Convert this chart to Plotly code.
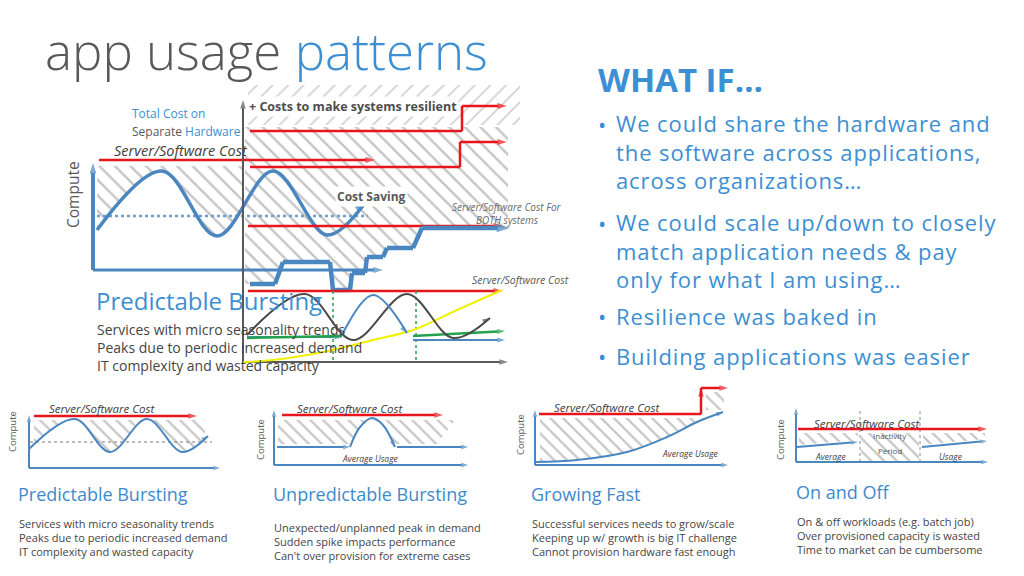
import plotly.graph_objects as go

W, H = 1024, 576
FONT = "Open Sans"

BLUE_TXT = "#3c8fd2"
GRAY_TXT = "#595959"
DESC_TXT = "#454545"
LINE_BLUE = "#4a87c0"
RED = "#e8161c"
HATCH = "#8c8c8c"
AXIS_GRAY = "#595959"
YELLOW = "#f0f000"
GREEN = "#23a24d"

# ---------------- text content ----------------
title_gray = "app usage "
title_blue = "patterns"
whatif_title = "WHAT IF…"
bullet_lines = [
    "We could share the hardware and",
    "the software across applications,",
    "across organizations…",
    "We could scale up/down to closely",
    "match application needs & pay",
    "only for what I am using…",
    "Resilience was baked in",
    "Building applications was easier",
]
bullet_starts = [True, False, False, True, False, False, True, True]

main_title = "Predictable Bursting"
main_desc = ["Services with micro seasonality trends",
             "Peaks due to periodic increased demand",
             "IT complexity and wasted capacity"]

card_titles = ["Predictable Bursting", "Unpredictable Bursting", "Growing Fast", "On and Off"]
card_desc = [
    ["Services with micro seasonality trends", "Peaks due to periodic increased demand", "IT complexity and wasted capacity"],
    ["Unexpected/unplanned peak in demand", "Sudden spike impacts performance", "Can't over provision for extreme cases"],
    ["Successful services needs to grow/scale", "Keeping up w/ growth is big IT challenge", "Cannot provision hardware fast enough"],
    ["On & off workloads (e.g. batch job)", "Over provisioned capacity is wasted", "Time to market can be cumbersome"],
]

# ---------------- main diagram data (time, compute units) ----------------
m_vaxis_x, m_vaxis_y = [33, 33], [110, 217]
m_haxis_x, m_haxis_y = [33, 323], [110, 110]
m_wave_x = [37, 102, 157, 213, 267, 305]
m_wave_y = [150, 209, 144, 209, 145, 177]
m_avg_x, m_avg_y = [37, 308], [164, 164]
m_cost_x, m_cost_y = [39, 315], [220, 220]
m_hatchL_top_x, m_hatchL_top_y = [37, 183], [214, 214]
m_hatchL_bot_x, m_hatchL_bot_y = [37, 102, 157, 183], [150, 209, 144, 178]
m_gv_x, m_gv_y = [183, 183], [17, 280]
m_gh_x, m_gh_y = [183, 448], [18, 18]
m_hatchR_x = [185, 448, 448, 362, 353, 327, 323, 307, 305, 292, 290, 273, 270, 223, 215, 185]
m_hatchR_y = [253, 253, 152, 152, 132, 132, 123, 123, 107, 107, 90, 90, 118, 118, 96, 96]
m_res_x, m_res_y = [188, 460, 460, 188], [255, 255, 295, 295]
m_res1_x, m_res1_y = [190, 402, 402, 447], [249, 249, 274, 274]
m_res2_x, m_res2_y = [190, 400, 400, 447], [213, 213, 238, 238]
m_both_x, m_both_y = [188, 443], [154, 154]
m_low_x, m_low_y = [188, 443], [89, 89]
m_step_x = [190, 215, 223, 270, 273, 290, 292, 305, 307, 323, 327, 353, 362, 450]
m_step_y = [96, 96, 118, 118, 90, 90, 107, 107, 123, 123, 132, 132, 152, 152]
m_yel_x = [183, 213, 263, 313, 353, 397, 442]
m_yel_y = [18, 20, 28, 40, 50, 70, 90]
m_blk_x = [187, 245, 293, 347, 393, 430]
m_blk_y = [45, 86, 40, 86, 42, 62]
m_bw1_x, m_bw1_y = [187, 282], [43, 43]
m_bw2_x, m_bw2_y = [282, 313, 347], [45, 85, 47]
m_bw3_x, m_bw3_y = [353, 445], [40, 40]
m_gr1_x, m_gr1_y = [187, 282], [42, 44]
m_gr3_x, m_gr3_y = [353, 445], [44, 49]
m_vd1_x, m_vd_y = [273, 273], [89, 18]
m_vd2_x = [356, 356]

# ---------------- card 1: predictable bursting ----------------
c1_yax_x, c1_yax_y = [9, 9], [7, 60]
c1_xax_x, c1_xax_y = [9, 200], [7, 7]
c1_cost_x, c1_cost_y = [14, 177], [59, 59]
c1_wave_x = [9, 55, 90, 127, 162, 188]
c1_wave_y = [26, 56, 23, 56, 23, 39]
c1_avg_x, c1_avg_y = [10, 192], [33, 33]
c1_htop_x, c1_htop_y = [14, 185], [55, 55]
c1_hbot_x = [14, 55, 90, 127, 162, 185]
c1_hbot_y = [30, 56, 23, 56, 23, 37]

# ---------------- card 2: unpredictable bursting ----------------
c2_yax_x, c2_yax_y = [9, 9], [7, 62]
c2_xax_x, c2_xax_y = [9, 203], [7, 7]
c2_cost_x, c2_cost_y = [17, 178], [57, 57]
c2_base1_x, c2_base1_y = [12, 85], [25, 25]
c2_bump_x, c2_bump_y = [85, 95, 107, 118, 130], [25, 45, 54, 47, 25]
c2_base2_x, c2_base2_y = [132, 203], [25, 25]
c2_htop_x, c2_htop_y = [13, 190], [52, 52]
c2_hbot_x = [13, 85, 95, 107, 118, 130, 172]
c2_hbot_y = [28, 28, 45, 53, 47, 28, 28]

# ---------------- card 3: growing fast ----------------
c3_yax_x, c3_yax_y = [10, 10], [7, 62]
c3_xax_x, c3_xax_y = [10, 203], [7, 7]
c3_cost_x, c3_cost_y = [14, 176, 176, 203], [58, 58, 84, 84]
c3_use_x = [10, 52, 102, 142, 172, 198]
c3_use_y = [10, 12, 20, 35, 50, 60]
c3_htop_x, c3_htop_y = [15, 185], [54, 54]
c3_hbot_x = [15, 52, 102, 142, 172, 185]
c3_hbot_y = [10, 12, 20, 35, 50, 54]
c3_hsmall_x, c3_hsmall_y = [181, 199, 199, 181], [62, 62, 80, 80]

# ---------------- card 4: on and off ----------------
c4_yax_x, c4_yax_y = [11, 11], [8, 62]
c4_xax_x, c4_xax_y = [11, 203], [8, 8]
c4_cost_x, c4_cost_y = [13, 202], [41, 41]
c4_on1_x, c4_on1_y = [12, 73], [23, 28]
c4_on2_x, c4_on2_y = [137, 202], [23, 29]
c4_div1_x, c4_div2_x, c4_div_y = [75, 75], [135, 135], [8, 60]
c4_h1_x, c4_h1_y = [14, 73, 73, 14], [37, 37, 30, 25]
c4_h2_x, c4_h2_y = [76, 134, 134, 76], [37, 37, 9, 9]
c4_h3_x, c4_h3_y = [138, 200, 200, 138], [37, 37, 31, 25]

# ---------------- panels (axis suffix, left, top, right, bottom in px) ----------------
panels = {
    "main": ("", 60, 80, 530, 380),
    "c1": ("2", 20, 400, 230, 475),
    "c2": ("3", 265, 400, 475, 472),
    "c3": ("4", 525, 380, 735, 472),
    "c4": ("5", 785, 400, 995, 470),
}

fig = go.Figure()


def ax_of(p):
    return panels[p][0]


def line(p, xs, ys, color, width, dash="solid", shape="linear", arrows=(), asize=9):
    a = ax_of(p)
    n = len(xs)
    sizes = [asize if i in arrows else 0 for i in range(n)]
    fig.add_trace(go.Scatter(
        x=xs, y=ys, xaxis="x" + a, yaxis="y" + a,
        mode="lines+markers" if arrows else "lines",
        line=dict(color=color, width=width, dash=dash, shape=shape),
        marker=dict(symbol="arrow", size=sizes, angleref="previous", color=color,
                    line=dict(width=0)),
        hoverinfo="skip", showlegend=False))


def arrow_end(xs):
    return (len(xs) - 1,)


def hatch_poly(p, xs, ys, shape="\\", size=10, solidity=0.25, color=HATCH):
    a = ax_of(p)
    fig.add_trace(go.Scatter(
        x=xs, y=ys, xaxis="x" + a, yaxis="y" + a, mode="lines", fill="toself",
        line=dict(width=0, color="rgba(0,0,0,0)"), fillcolor="rgba(0,0,0,0)",
        fillpattern=dict(shape=shape, size=size, solidity=solidity, fgcolor=color,
                         bgcolor="rgba(0,0,0,0)"),
        hoverinfo="skip", showlegend=False))


def hatch_between(p, tx, ty, bx, by, bshape="linear", size=10, solidity=0.25):
    a = ax_of(p)
    fig.add_trace(go.Scatter(x=tx, y=ty, xaxis="x" + a, yaxis="y" + a, mode="lines",
                             line=dict(width=0, color="rgba(0,0,0,0)"),
                             hoverinfo="skip", showlegend=False))
    fig.add_trace(go.Scatter(
        x=bx, y=by, xaxis="x" + a, yaxis="y" + a, mode="lines", fill="tonexty",
        line=dict(width=0, color="rgba(0,0,0,0)", shape=bshape), fillcolor="rgba(0,0,0,0)",
        fillpattern=dict(shape="\\", size=size, solidity=solidity, fgcolor=HATCH,
                         bgcolor="rgba(0,0,0,0)"),
        hoverinfo="skip", showlegend=False))


# ---- main diagram ----
hatch_poly("main", m_res_x, m_res_y, shape="/", size=11, solidity=0.15, color="#a0a0a0")
hatch_poly("main", m_hatchR_x, m_hatchR_y, size=11, solidity=0.22)
hatch_between("main", m_hatchL_top_x, m_hatchL_top_y, m_hatchL_bot_x, m_hatchL_bot_y,
              bshape="spline", size=11, solidity=0.22)

line("main", m_vaxis_x, m_vaxis_y, LINE_BLUE, 4, arrows=arrow_end(m_vaxis_x), asize=11)
line("main", m_haxis_x, m_haxis_y, LINE_BLUE, 3, arrows=arrow_end(m_haxis_x), asize=10)
line("main", m_avg_x, m_avg_y, "#6f9fcf", 2.5, dash="dot")
line("main", m_wave_x, m_wave_y, LINE_BLUE, 3.5, shape="spline", arrows=arrow_end(m_wave_x), asize=11)
line("main", m_cost_x, m_cost_y, RED, 2.5, arrows=arrow_end(m_cost_x), asize=10)
line("main", m_gv_x, m_gv_y, AXIS_GRAY, 2, arrows=arrow_end(m_gv_x), asize=9)
line("main", m_gh_x, m_gh_y, AXIS_GRAY, 2, arrows=arrow_end(m_gh_x), asize=9)
line("main", m_res1_x, m_res1_y, RED, 2.5, arrows=arrow_end(m_res1_x), asize=10)
line("main", m_res2_x, m_res2_y, RED, 2.5, arrows=arrow_end(m_res2_x), asize=10)
line("main", m_both_x, m_both_y, RED, 2.5, arrows=arrow_end(m_both_x), asize=10)
line("main", m_step_x, m_step_y, LINE_BLUE, 4.5, arrows=arrow_end(m_step_x), asize=14)
line("main", m_low_x, m_low_y, RED, 2.5, arrows=arrow_end(m_low_x), asize=10)
line("main", m_vd1_x, m_vd_y, GREEN, 1.5, dash="dot")
line("main", m_vd2_x, m_vd_y, GREEN, 1.5, dash="dot")
line("main", m_yel_x, m_yel_y, YELLOW, 2, shape="spline")
line("main", m_bw1_x, m_bw1_y, LINE_BLUE, 2, arrows=arrow_end(m_bw1_x), asize=8)
line("main", m_gr1_x, m_gr1_y, GREEN, 2.5)
line("main", m_bw3_x, m_bw3_y, LINE_BLUE, 2, arrows=arrow_end(m_bw3_x), asize=8)
line("main", m_gr3_x, m_gr3_y, GREEN, 2.5, arrows=arrow_end(m_gr3_x), asize=8)
line("main", m_blk_x, m_blk_y, "#4a4a4a", 2, shape="spline", arrows=arrow_end(m_blk_x), asize=8)
line("main", m_bw2_x, m_bw2_y, LINE_BLUE, 2, shape="spline", arrows=arrow_end(m_bw2_x), asize=8)

# ---- card 1 ----
hatch_between("c1", c1_htop_x, c1_htop_y, c1_hbot_x, c1_hbot_y, bshape="spline", size=9, solidity=0.25)
line("c1", c1_avg_x, c1_avg_y, "#7a7a7a", 1, dash="dot")
line("c1", c1_yax_x, c1_yax_y, LINE_BLUE, 2, arrows=arrow_end(c1_yax_x), asize=7)
line("c1", c1_xax_x, c1_xax_y, LINE_BLUE, 2, arrows=arrow_end(c1_xax_x), asize=7)
line("c1", c1_wave_x, c1_wave_y, LINE_BLUE, 2, shape="spline", arrows=arrow_end(c1_wave_x), asize=7)
line("c1", c1_cost_x, c1_cost_y, RED, 2.5, arrows=arrow_end(c1_cost_x), asize=9)

# ---- card 2 ----
hatch_between("c2", c2_htop_x, c2_htop_y, c2_hbot_x, c2_hbot_y, size=9, solidity=0.25)
line("c2", c2_yax_x, c2_yax_y, LINE_BLUE, 2, arrows=arrow_end(c2_yax_x), asize=7)
line("c2", c2_xax_x, c2_xax_y, LINE_BLUE, 2, arrows=arrow_end(c2_xax_x), asize=7)
line("c2", c2_base1_x, c2_base1_y, LINE_BLUE, 2, arrows=arrow_end(c2_base1_x), asize=7)
line("c2", c2_bump_x, c2_bump_y, LINE_BLUE, 2, shape="spline", arrows=arrow_end(c2_bump_x), asize=7)
line("c2", c2_base2_x, c2_base2_y, LINE_BLUE, 2, arrows=arrow_end(c2_base2_x), asize=7)
line("c2", c2_cost_x, c2_cost_y, RED, 2.5, arrows=arrow_end(c2_cost_x), asize=9)

# ---- card 3 ----
hatch_between("c3", c3_htop_x, c3_htop_y, c3_hbot_x, c3_hbot_y, bshape="spline", size=9, solidity=0.25)
hatch_poly("c3", c3_hsmall_x, c3_hsmall_y, size=9)
line("c3", c3_yax_x, c3_yax_y, LINE_BLUE, 2, arrows=arrow_end(c3_yax_x), asize=7)
line("c3", c3_xax_x, c3_xax_y, LINE_BLUE, 2, arrows=arrow_end(c3_xax_x), asize=7)
line("c3", c3_use_x, c3_use_y, LINE_BLUE, 2, shape="spline", arrows=arrow_end(c3_use_x), asize=7)
line("c3", c3_cost_x, c3_cost_y, RED, 2.5, arrows=(2, len(c3_cost_x) - 1), asize=9)

# ---- card 4 ----
hatch_poly("c4", c4_h1_x, c4_h1_y, size=9)
hatch_poly("c4", c4_h2_x, c4_h2_y, size=9)
hatch_poly("c4", c4_h3_x, c4_h3_y, size=9)
line("c4", c4_div1_x, c4_div_y, "#8a8a8a", 1, dash="dot")
line("c4", c4_div2_x, c4_div_y, "#8a8a8a", 1, dash="dot")
line("c4", c4_yax_x, c4_yax_y, LINE_BLUE, 2, arrows=arrow_end(c4_yax_x), asize=7)
line("c4", c4_xax_x, c4_xax_y, LINE_BLUE, 2, arrows=arrow_end(c4_xax_x), asize=7)
line("c4", c4_on1_x, c4_on1_y, LINE_BLUE, 2, arrows=arrow_end(c4_on1_x), asize=7)
line("c4", c4_on2_x, c4_on2_y, LINE_BLUE, 2, arrows=arrow_end(c4_on2_x), asize=7)
line("c4", c4_cost_x, c4_cost_y, RED, 2.5, arrows=arrow_end(c4_cost_x), asize=9)

# ---------------- text ----------------
anns = []


def txt(x, y, s, size, color, xanchor="left", weight=400, italic=False, angle=0, bg=None):
    d = dict(x=x / W, y=1 - y / H, xref="paper", yref="paper", text=s, showarrow=False,
             xanchor=xanchor, yanchor="middle", textangle=angle, align="left",
             font=dict(family=FONT, size=size, color=color, weight=weight,
                       style="italic" if italic else "normal"))
    if bg:
        d["bgcolor"] = bg
        d["borderpad"] = 1
    anns.append(d)


txt(43, 50, title_gray + "<span style='color:%s'>%s</span>" % (BLUE_TXT, title_blue), 51, GRAY_TXT, weight=300)
txt(596, 80, whatif_title, 33, BLUE_TXT, weight=700)

# group bullet lines into one text block per bullet
groups = []
for s, st in zip(bullet_lines, bullet_starts):
    if st:
        groups.append([s])
    else:
        groups[-1].append(s)
group_centres = [152, 251, 316, 356]
group_firsts = [124, 223, 316, 356]
for g, yc, yf in zip(groups, group_centres, group_firsts):
    txt(596, yf, "•", 22, BLUE_TXT)
    body = "<br>".join("<span style='letter-spacing:0.9px'>%s</span>" % s for s in g)
    txt(614, yc, body, 22, BLUE_TXT)

# main diagram labels
txt(130, 114, "Total Cost on", 12, BLUE_TXT)
txt(130, 131, "Separate <span style='color:%s'>Hardware</span>" % BLUE_TXT, 12, GRAY_TXT)
txt(112, 150, "Server/Software Cost", 14.5, "#404040", italic=True)
txt(73, 195, "Compute", 15.5, GRAY_TXT, xanchor="center", angle=-90)
txt(353, 107, "+ Costs to make systems resilient", 12.5, "#4d4d4d", xanchor="center", weight=700, bg="white")
txt(371, 197, "Cost Saving", 12, "#595959", xanchor="center", weight=700, bg="white")
txt(507, 207, "Server/Software Cost For", 10, "#6b6b6b", xanchor="center", italic=True)
txt(507, 220, "BOTH systems", 10, "#6b6b6b", xanchor="center", italic=True)
txt(520, 280, "Server/Software Cost", 10.5, "#5a5a5a", xanchor="center", italic=True)
txt(94, 300, main_title, 24, BLUE_TXT, weight=400)
for i, s in enumerate(main_desc):
    txt(95, 329 + 18 * i, s, 14, DESC_TXT)

# card labels
cost_lbl_pos = [(102, 408), (350, 408), (607, 407), (867, 423)]
for (cx, cy) in cost_lbl_pos:
    txt(cx, cy, "Server/Software Cost", 11.5, "#404040", xanchor="center", italic=True)
compute_pos = [(12, 432), (260, 440), (520, 435), (780, 440)]
for (cx, cy) in compute_pos:
    txt(cx, cy, "Compute", 9.5, GRAY_TXT, xanchor="center", angle=-90)
txt(370, 458, "Average Usage", 8.5, "#404040", xanchor="center", italic=True)
txt(690, 453, "Average Usage", 8.5, "#404040", xanchor="center", italic=True)
txt(830, 456, "Average", 8.5, "#404040", xanchor="center", italic=True)
txt(950, 456, "Usage", 8.5, "#404040", xanchor="center", italic=True)
txt(890, 435, "Inactivity", 8, "#555555", xanchor="center")
txt(890, 450, "Period", 8, "#555555", xanchor="center")

title_pos = [(16, 494), (271, 494), (529, 494), (794, 492)]
desc_pos = [(17, 523), (272, 527), (530, 523), (795, 521)]
for t, (tx, ty) in zip(card_titles, title_pos):
    txt(tx, ty, t, 18, "#3d8bcb")
for d, (dx, dy) in zip(card_desc, desc_pos):
    for i, s in enumerate(d):
        txt(dx, dy + 14.3 * i, s, 11, DESC_TXT)

# ---------------- layout ----------------
layout = dict(width=W, height=H, margin=dict(l=0, r=0, t=0, b=0),
              paper_bgcolor="white", plot_bgcolor="rgba(0,0,0,0)",
              annotations=anns, showlegend=False, hovermode=False)
for name, (a, l, t, r, b) in panels.items():
    layout["xaxis" + a] = dict(domain=[l / W, r / W], range=[0, r - l], visible=False,
                               fixedrange=True, anchor="y" + a)
    layout["yaxis" + a] = dict(domain=[1 - b / H, 1 - t / H], range=[0, b - t], visible=False,
                               fixedrange=True, anchor="x" + a)
fig.update_layout(**layout)
fig.write_html("out.html", config={"displayModeBar": False},
               post_script="document.body.style.margin='0px';document.body.style.overflow='hidden';")
